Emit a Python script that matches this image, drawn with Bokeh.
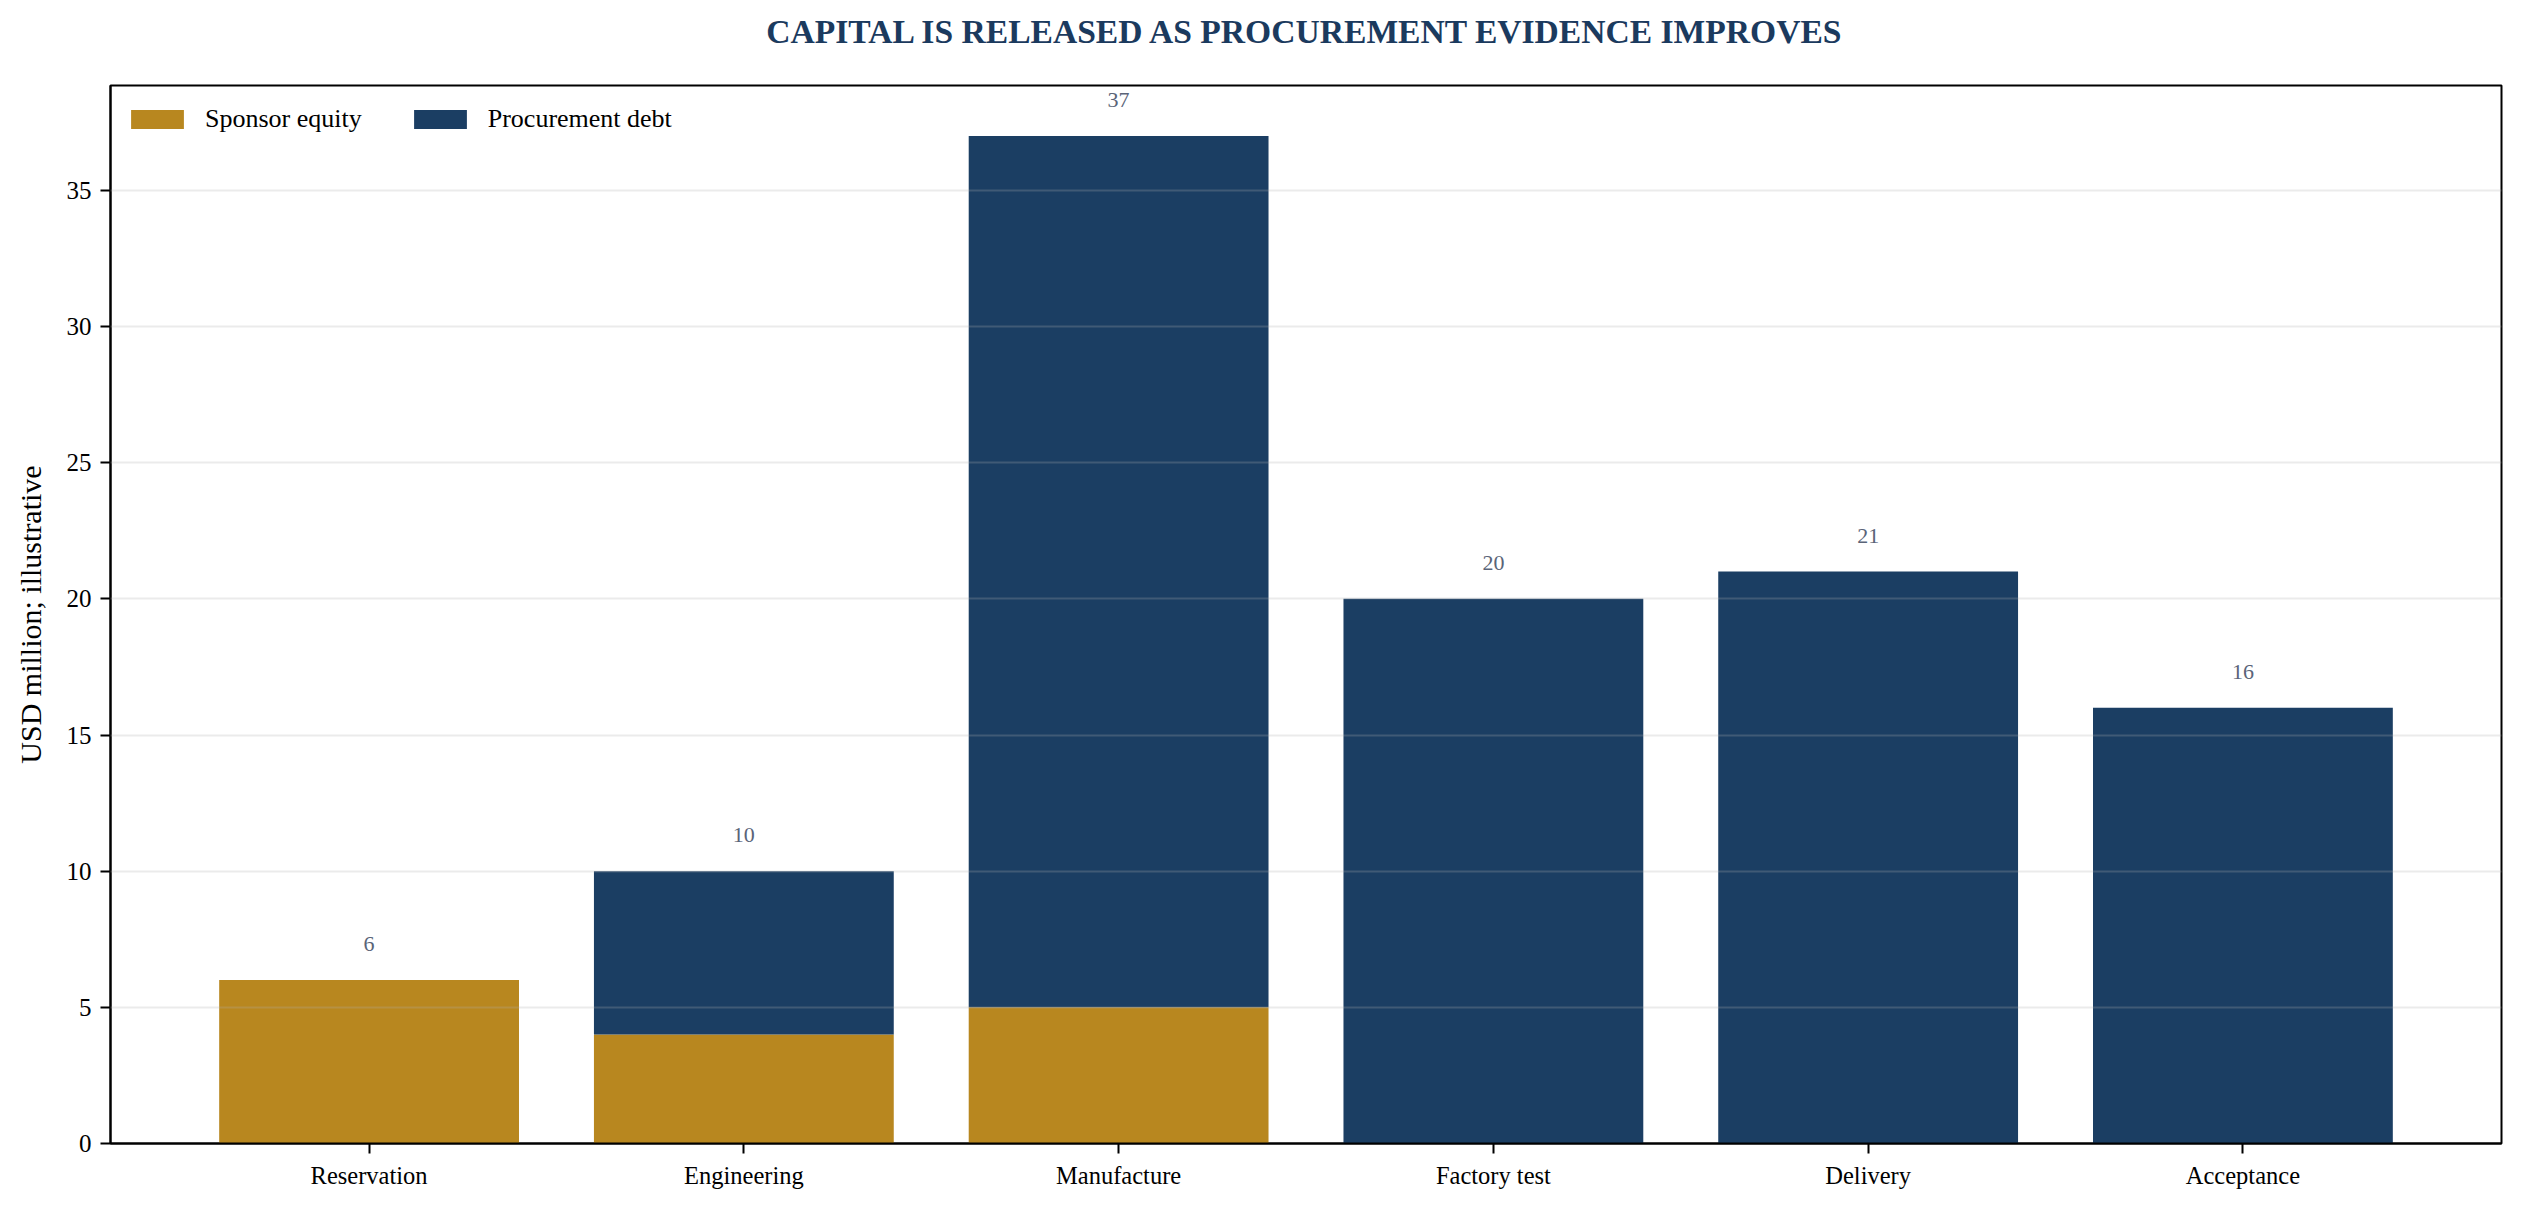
from bokeh.plotting import figure
from bokeh.models import ColumnDataSource, FactorRange, Range1d, FixedTicker, Label
from bokeh.embed import file_html
from bokeh.resources import INLINE
from bokeh.core.properties import value

# ---- data ----
stages = ["Reservation", "Engineering", "Manufacture", "Factory test", "Delivery", "Acceptance"]
sponsor_equity = [6, 4, 5, 0, 0, 0]
procurement_debt = [0, 6, 32, 20, 21, 16]
totals = [e + d for e, d in zip(sponsor_equity, procurement_debt)]
total_labels = [str(t) for t in totals]
y_ticks = [0, 5, 10, 15, 20, 25, 30, 35]
series_names = ["Sponsor equity", "Procurement debt"]
title_text = "CAPITAL IS RELEASED AS PROCUREMENT EVIDENCE IMPROVES"

FONT = "Liberation Serif"
GOLD = "#b8871f"
NAVY = "#1b3e63"
TITLE_COLOR = "#1b3a5e"

W, H = 2509, 1194
BL, BR, BT, BB = 110, 8, 85, 51
FRAME_W = W - BL - BR

src = ColumnDataSource(dict(stage=stages, equity=sponsor_equity, debt=procurement_debt,
                            total=totals, label=total_labels))

p = figure(width=W, height=H,
           x_range=FactorRange(*stages, range_padding=0.19, range_padding_units="absolute"),
           y_range=Range1d(0, max(totals) * 1.05),
           output_backend="svg", toolbar_location=None,
           min_border_left=BL, min_border_right=BR, min_border_top=BT, min_border_bottom=BB,
           background_fill_color="white", border_fill_color="white")

p.vbar_stack(["equity", "debt"], x="stage", width=0.8, source=src,
             fill_color=[GOLD, NAVY], line_color=None,
             legend_label=series_names)

p.text(x="stage", y="total", text="label", source=src,
       text_font=value(FONT), text_font_size="22px", text_color="#5a6478",
       text_align="center", text_baseline="middle", y_offset=-36)

# title: a label placed in the panel above the frame
title = Label(x=FRAME_W / 2, y=54, x_units="screen", y_units="screen",
              text=title_text, text_font=FONT, text_font_style="bold",
              text_font_size="33.6px", text_color=TITLE_COLOR,
              text_align="center", text_baseline="alphabetic")
p.add_layout(title, "above")

# frame
p.outline_line_color = "black"
p.outline_line_width = 2
p.outline_line_alpha = 1.0

# axes
for ax in (p.xaxis[0], p.yaxis[0]):
    ax.axis_line_color = "black"
    ax.axis_line_width = 2
    ax.major_tick_line_color = "black"
    ax.major_tick_line_width = 2
    ax.major_tick_in = 0
    ax.major_tick_out = 10
    ax.minor_tick_line_color = None
    ax.major_label_text_font = FONT
    ax.major_label_text_color = "black"

p.xaxis.major_label_text_font_size = "24.5px"
p.xaxis.major_label_standoff = 8
p.yaxis.major_label_text_font_size = "25px"
p.yaxis.major_label_standoff = 9
p.yaxis.ticker = FixedTicker(ticks=y_ticks)
p.yaxis.axis_label = "USD million; illustrative"
p.yaxis.axis_label_text_font = FONT
p.yaxis.axis_label_text_font_size = "30px"
p.yaxis.axis_label_text_font_style = "normal"
p.yaxis.axis_label_text_color = "black"
p.yaxis.axis_label_standoff = 17

# grid
p.xgrid.grid_line_color = None
p.ygrid.grid_line_color = "#b0b0b0"
p.ygrid.grid_line_alpha = 0.25
p.ygrid.grid_line_width = 2
p.ygrid.level = "overlay"

# legend
lg = p.legend[0]
lg.location = "top_left"
lg.orientation = "horizontal"
lg.border_line_color = None
lg.background_fill_alpha = 0
lg.label_text_font = FONT
lg.label_text_font_size = "26px"
lg.label_text_color = "black"
lg.glyph_width = 66
lg.glyph_height = 24
lg.label_height = 40
lg.label_standoff = 15
lg.spacing = 45
lg.margin = 14
lg.padding = 10

open("out.html", "w").write(file_html(p, INLINE))
